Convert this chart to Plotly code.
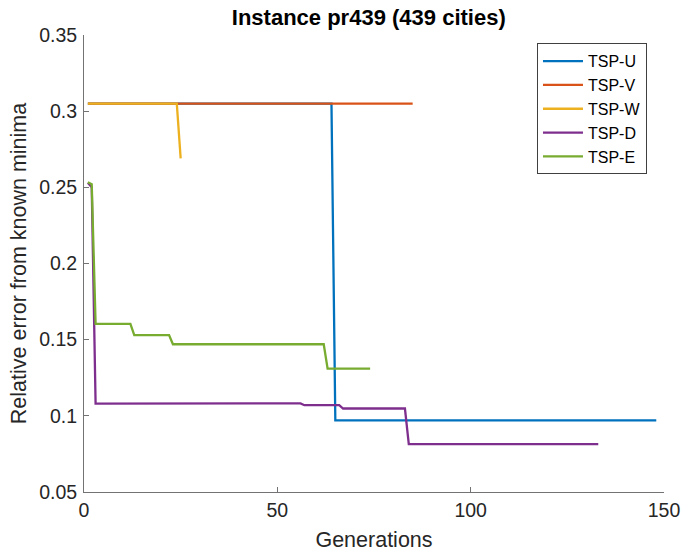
import plotly.graph_objects as go

# ---- data ----
u_x = [1, 64, 65, 148]
u_y = [0.305, 0.305, 0.097, 0.097]

v_x = [1, 85]
v_y = [0.305, 0.305]

w_x = [1, 24, 25]
w_y = [0.305, 0.305, 0.269]

d_x = [1, 2, 3, 46, 47, 56, 57, 66, 67, 83, 84, 133]
d_y = [0.253, 0.25, 0.108, 0.108, 0.1082, 0.1082, 0.107, 0.107, 0.1048, 0.1048, 0.0814, 0.0814]

e_x = [1, 2, 3, 12, 13, 22, 23, 62, 63, 74]
e_y = [0.2533, 0.252, 0.1604, 0.1604, 0.153, 0.153, 0.147, 0.147, 0.131, 0.131]

names = ["TSP-U", "TSP-V", "TSP-W", "TSP-D", "TSP-E"]
colors = ["#0072BD", "#D95319", "#EDB120", "#7E2F8E", "#77AC30"]

x_ticks = [0, 50, 100, 150]
y_ticks = [0.05, 0.1, 0.15, 0.2, 0.25, 0.3, 0.35]
y_tick_text = ["0.05", "0.1", "0.15", "0.2", "0.25", "0.3", "0.35"]

series = [(u_x, u_y), (v_x, v_y), (w_x, w_y), (d_x, d_y), (e_x, e_y)]

fig = go.Figure()
for (xs, ys), n, c in zip(series, names, colors):
    fig.add_trace(go.Scatter(x=xs, y=ys, mode="lines", name=n,
                             line=dict(color=c, width=2.3)))

FONT = "Liberation Sans, Arial, Helvetica, sans-serif"
axis_color = "#737373"

fig.update_layout(
    width=683, height=556,
    margin=dict(l=84, r=19, t=35, b=64, autoexpand=False),
    paper_bgcolor="white", plot_bgcolor="white",
    font=dict(family=FONT, color="#262626", size=19),
    title=dict(text="<b>Instance pr439 (439 cities)</b>", x=0.491, xanchor="center",
               xref="paper", y=1 - 17 / 556, yanchor="middle",
               font=dict(family=FONT, size=22, color="#000000")),
    showlegend=True,
    legend=dict(x=0.781, y=0.982, xanchor="left", yanchor="top",
                bgcolor="white", bordercolor="#404040", borderwidth=1,
                font=dict(family=FONT, size=16, color="#000000"),
                tracegroupgap=0, itemwidth=40),
)

fig.update_xaxes(range=[0, 150], tickvals=x_ticks, ticks="inside", ticklen=5,
                 tickcolor=axis_color, showline=True, linecolor=axis_color, linewidth=1,
                 showgrid=False, zeroline=False, mirror=False, automargin=False,
                 tickfont=dict(size=19.5, color="#262626"), ticklabelstandoff=1,
                 title=dict(text="Generations", font=dict(size=21.5, color="#262626"), standoff=11))
fig.update_yaxes(range=[0.05, 0.35], tickvals=y_ticks, ticktext=y_tick_text,
                 ticks="inside", ticklen=5,
                 tickcolor=axis_color, showline=True, linecolor=axis_color, linewidth=1,
                 showgrid=False, zeroline=False, mirror=False, automargin=False,
                 tickfont=dict(size=19.5, color="#262626"), ticklabelstandoff=2,
                 title=dict(text="Relative error from known minima",
                            font=dict(size=21.5, color="#262626"), standoff=6))

fig.write_html("out.html", config={"displayModeBar": False},
               post_script="document.body.style.margin='0';document.body.style.padding='0';")
